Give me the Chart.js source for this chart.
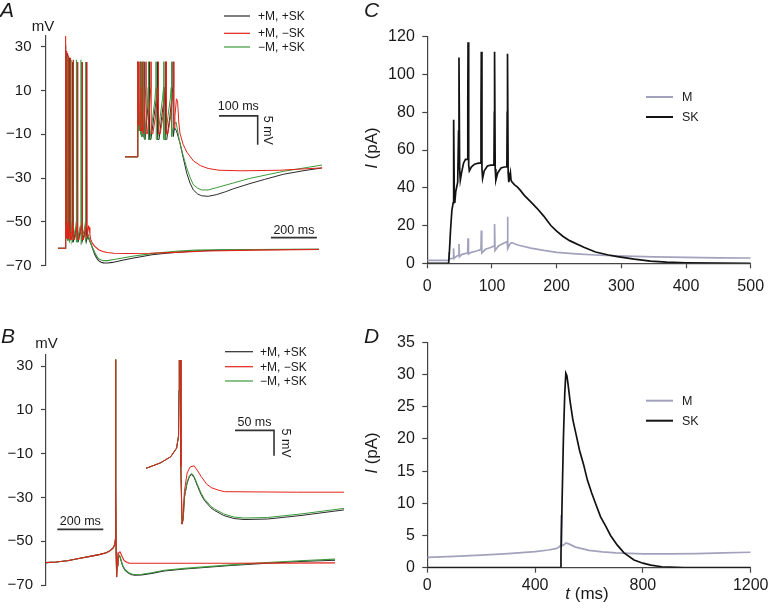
<!DOCTYPE html>
<html><head><meta charset="utf-8">
<script src="https://cdn.jsdelivr.net/npm/chart.js@4.4.1/dist/chart.umd.min.js"></script>
<style>
html,body{margin:0;padding:0;background:#fff;}
#wrap{position:relative;width:768px;height:612px;overflow:hidden;background:#fff;}
canvas{position:absolute;left:0;top:0;}
</style></head><body>
<div id="wrap">
<canvas id="cA" width="768" height="612"></canvas>
<canvas id="cAi" width="768" height="612"></canvas>
<canvas id="cB" width="768" height="612"></canvas>
<canvas id="cBi" width="768" height="612"></canvas>
<canvas id="cC" width="768" height="612"></canvas>
<canvas id="cD" width="768" height="612"></canvas>
</div>
<script>
// ---------------- DATA ----------------
const voltTicks = [-70, -50, -30, -10, 10, 30];
const cTicksX = [0, 100, 200, 300, 400, 500];
const cTicksY = [0, 20, 40, 60, 80, 100, 120];
const dTicksX = [0, 400, 800, 1200];
const dTicksY = [0, 5, 10, 15, 20, 25, 30, 35];
const seriesLabels = ['+M, +SK', '+M, \u2212SK', '\u2212M, +SK'];
const currentLabels = ['M', 'SK'];

// Panel A: membrane potential (t ms, V mV)
const A_pMpSK = [[0,-62],[32,-62],[32.5,-56],[33.2,-50],[33.5,30],[34.3,-57],[36,-57.5],[39,-54],[40.6,-50],[41,27],[41.8,-58],[43.5,-58.5],[46.5,-54],[48.6,-50],[49,25],[49.8,-58.5],[52,-59],[57,-55],[61,-52],[62.6,-50],[63,23],[63.8,-59],[67,-59],[75,-55],[81,-52],[83.1,-50],[83.5,23],[84.3,-59],[88,-59],[95,-55],[101,-52],[103.6,-50],[104,23],[104.8,-59],[108,-59],[116,-55],[121,-52],[123.6,-50],[124,23],[124.8,-58.5],[128,-57],[133,-57.5],[142,-59.6],[150,-62],[159.5,-64.8],[168,-66.5],[176.6,-67.7],[188,-68.4],[198,-68.7],[215,-68.8],[237,-68.5],[260,-68],[280,-67.5],[323,-66.6],[360,-65.9],[409,-65],[460,-64.4],[510,-63.9],[600,-63.3],[700,-62.9],[850,-62.7],[1000,-62.6],[1135,-62.5]];
const A_pMmSK = [[0,-62],[32,-62],[32.5,-56],[33.2,-50],[33.5,35],[34.3,-56],[35.5,-56.5],[37,-53],[38.1,-50],[38.5,28],[39.3,-57],[41,-57.5],[43,-54],[44.6,-50],[45,26],[45.8,-57.5],[48,-58],[51,-54],[53.6,-50],[54,25],[54.8,-58],[58,-58],[63,-54],[66.6,-50],[67,24],[67.8,-58],[72,-58],[79,-55],[85.6,-50],[86,23],[86.8,-58],[91,-58],[98,-55],[105.6,-50],[106,23],[106.8,-58],[111,-58],[118,-55],[125.6,-50],[126,23],[126.8,-57],[129,-55],[133,-52],[136,-52.5],[139,-56],[142,-57.9],[150,-59.8],[160,-61.2],[177,-62.7],[195,-63.5],[215,-64],[243,-64.3],[300,-64.4],[400,-64.3],[510,-63.9],[650,-63.3],[850,-62.9],[1135,-62.6]];
const A_mMpSK = [[0,-62],[32,-62],[32.5,-56],[33.2,-50],[33.5,31],[34.3,-57],[36,-57.5],[38.5,-54],[40.1,-50],[40.5,26],[41.3,-58],[43,-58.5],[45.5,-54],[47.1,-50],[47.5,25],[48.3,-58.5],[50.5,-59],[55,-55],[58.5,-52],[60.1,-50],[60.5,24],[61.3,-59],[64.5,-59],[72,-55],[77.5,-52],[79.6,-50],[80,24],[80.8,-59],[84.5,-59],[91,-55],[97,-52],[99.6,-50],[100,24],[100.8,-59],[104.5,-59],[111,-55],[117,-52],[119.6,-50],[120,23],[120.8,-58.5],[126,-56.5],[132,-56],[140,-59],[150,-61.7],[159.5,-63.9],[168,-65.5],[176.6,-66.8],[188,-67.4],[198,-67.7],[215,-67.7],[237,-67.3],[280,-66.5],[323,-65.7],[409,-64.5],[510,-63.4],[600,-62.9],[700,-62.7],[850,-62.6],[1000,-62.5],[1135,-62.5]];

// Panel B: membrane potential (t ms, V mV)
const B_pMpSK = [[197,-59.8],[240,-59.5],[290,-58.9],[345,-57.8],[400,-56.7],[432,-56],[459,-55.3],[476,-54.3],[489,-53.1],[496.5,-51.4],[499,-49],[499.6,-40],[500,33],[501,-25],[502,-55],[503.5,-66.4],[505,-65.5],[506.5,-61.2],[510,-58.3],[513,-57],[516,-56.6],[519,-57.2],[523.6,-59],[528,-60.6],[532,-61.7],[540.6,-63.2],[545,-63.7],[557,-64.7],[570,-65.3],[583,-65.5],[613,-65.4],[656,-64.7],[711,-63.6],[800,-62.7],[900,-61.9],[1000,-61.1],[1157,-60.1],[1300,-59.3],[1454,-58.7]];
const B_pMmSK = [[197,-59.8],[240,-59.5],[290,-58.9],[345,-57.8],[400,-56.7],[432,-56],[459,-55.3],[476,-54.3],[489,-53.1],[496.5,-51.4],[499,-49],[499.6,-40],[500,33],[501,-25],[502,-55],[503.5,-66.4],[505,-64.5],[506.5,-60],[510,-56.3],[514,-55.1],[519,-54.9],[523.6,-55.9],[528,-57],[535,-58.5],[541,-59.2],[550,-59.7],[558,-60],[650,-60.1],[800,-60.1],[1000,-60.1],[1200,-60],[1454,-59.9]];
const B_mMpSK = [[197,-59.8],[240,-59.5],[290,-58.9],[345,-57.8],[400,-56.7],[432,-56],[459,-55.3],[476,-54.3],[489,-53.1],[496.5,-51.4],[499,-49],[499.6,-40],[500,33],[501,-25],[502,-55],[503.5,-66.4],[505,-65.4],[506.5,-61],[510,-58.1],[513,-56.8],[516,-56.4],[519,-57],[523.6,-58.7],[528,-60.3],[532,-61.4],[540.6,-62.9],[545,-63.4],[557,-64.4],[570,-65],[583,-65.2],[613,-65.1],[656,-64.4],[711,-63.3],[800,-62.4],[900,-61.6],[1000,-60.8],[1157,-59.7],[1300,-58.9],[1454,-58.2]];

// Panel C: currents during burst (t ms, I pA)
const C_M = [[0,1.5],[32,1.5],[33,2],[33.5,5.8],[34,2.2],[36,2.4],[40,2.8],[40.6,7.9],[41.3,2.6],[44,3.4],[48.4,4.4],[49,10.2],[49.7,3.5],[53,4.6],[58,5.1],[62.4,5.4],[63,13.2],[63.7,4.9],[68,5.8],[76,6.5],[83,7.4],[83.5,17.3],[84.2,5.5],[90,7.4],[98,8.4],[103.5,9.2],[104,20.8],[104.7,6.8],[110,9.2],[118,10.6],[123.5,11.5],[124,24.7],[124.7,7.9],[127,9.8],[130,10.9],[133,10.6],[140,9.7],[160,8],[180,6.8],[200,5.8],[230,5],[260,4.4],[294,3.9],[350,3.4],[400,3.1],[450,2.9],[500,2.8]];
const C_SK = [[0,0],[33,0],[34,5],[36,18],[38,28],[40,32],[40.5,50],[41,76],[41.8,34],[42.5,32],[44,38],[47,43],[48.3,70],[49,109],[50,50],[51,44],[53,48],[56,53],[59,55],[62,55],[62.6,85],[63,117],[64,52],[65,49],[68,51],[73,52.5],[79,53],[82.5,53],[83,80],[83.5,112],[84.5,50],[85.5,45],[88,49],[93,51.5],[98,52],[103,52],[103.6,80],[104,112],[105,50],[106,44],[109,48],[114,50.5],[119,51],[123,51],[123.5,80],[124,111],[125,48],[126,43],[127.5,46],[128.5,48],[129.5,44],[131,43],[135,41.5],[139,40.5],[143,39],[150,36],[160,32.5],[170,29],[180,25],[191,20],[200,17],[210,14.2],[220,12],[242,8.5],[260,6],[280,4.4],[294,3.5],[320,2.2],[345,1.2],[370,0.6],[400,0.3],[450,0.1],[500,0]];

// Panel D: currents around single spike (t ms, I pA)
const D_M = [[0,1.6],[100,1.75],[200,1.95],[300,2.2],[400,2.5],[450,2.75],[480,3.0],[492,3.3],[496,3.6],[497,8.2],[498,3.4],[505,3.5],[515,3.85],[525,3.7],[550,3.2],[600,2.7],[650,2.45],[700,2.3],[800,2.15],[900,2.15],[1000,2.2],[1100,2.3],[1200,2.4]];
const D_SK = [[0,0],[494,0],[496,2],[500,10],[505,20],[510,27],[514,30.2],[518,29.8],[522,28.6],[530,25.8],[540,23],[551,20.9],[565,18.2],[580,16],[594,13.6],[610,11.6],[625,9.9],[643,7.9],[660,6.6],[680,5],[705,3.5],[730,2.3],[767,1.2],[800,0.7],[829,0.4],[870,0.15],[953,0],[1200,0]];

// ---------------- LAYOUT / STYLE ----------------
const FONT = "'Liberation Sans', Arial, Helvetica, sans-serif";
const AXIS = '#444';
const TXT = '#1a1a1a';
const COL = {pMpSK:'#2b2b2b', pMmSK:'#e2231a', mMpSK:'#3c9a3c', M:'#a2a2bc', SK:'#121212', bar:'#333'};
// scale bars (position + length in data units)
const barA = {t:926, v:-57.2, len:200};
const barAi = {t:243, v:-54.93, len:100, mv:5};
const barB = {t:246, v:-44.6, len:200};
const barBi = {t:571.4, v:-47.9, len:50, mv:5};

const toXY = a => a.map(p => ({x:p[0], y:p[1]}));
const fmtV = v => (v < 0 ? '\u2212' + Math.abs(v) : String(v));
const fmtPlain = v => String(v);

function ds(arr, color, w, order) {
  return {data: toXY(arr), borderColor: color, borderWidth: w, pointRadius: 0, fill: false, tension: 0, order: order};
}
function opts(padding, scales) {
  return {responsive:false, maintainAspectRatio:false, animation:false, events:[],
    layout:{padding}, plugins:{legend:{display:false}, tooltip:{enabled:false}},
    elements:{point:{radius:0}, line:{tension:0}}, scales};
}
function zeroPad(s) { s.paddingTop = 0; s.paddingBottom = 0; s.paddingLeft = 0; s.paddingRight = 0; }
function yAxis(min, max, vals, pad, size, fmt) {
  return {type:'linear', position:'left', min, max,
    afterBuildTicks: s => { s.ticks = vals.map(v => ({value:v})); },
    afterFit: s => { s.width = 40; zeroPad(s); },
    grid:{drawOnChartArea:false, drawTicks:true, tickLength:5, tickWidth:1.2, tickColor:AXIS, color:AXIS},
    border:{display:true, color:AXIS, width:1.2},
    ticks:{padding:pad, color:TXT, font:{size, family:FONT}, callback: fmt || fmtPlain}};
}
function xAxis(min, max, vals, pad, size) {
  return {type:'linear', position:'bottom', min, max,
    afterBuildTicks: s => { s.ticks = vals.map(v => ({value:v})); },
    afterFit: s => { s.height = 30; zeroPad(s); },
    grid:{drawOnChartArea:false, drawTicks:true, tickLength:5, tickWidth:1.2, tickColor:AXIS, color:AXIS},
    border:{display:true, color:AXIS, width:1.2},
    ticks:{padding:pad, color:TXT, font:{size, family:FONT}, maxRotation:0, minRotation:0, autoSkip:false, callback: fmtPlain}};
}
function hidden(min, max) { return {type:'linear', display:false, min, max}; }
function annot(id, fn) { return {id, afterDraw(chart){ const c = chart.ctx; c.save(); fn(chart, c); c.restore(); }}; }

function legend(ctx, x0, x1, tx, ys, labels, colors, widths, size) {
  ctx.font = size + 'px ' + FONT; ctx.textAlign = 'left'; ctx.textBaseline = 'middle';
  ys.forEach((y, i) => {
    ctx.strokeStyle = colors[i]; ctx.lineWidth = widths[i];
    ctx.beginPath(); ctx.moveTo(x0, y); ctx.lineTo(x1, y); ctx.stroke();
    ctx.fillStyle = TXT; ctx.fillText(labels[i], tx, y + 0.5);
  });
}
function panelLetter(ctx, L, x, y) {
  ctx.fillStyle = TXT; ctx.font = 'italic 21px ' + FONT; ctx.textAlign = 'left'; ctx.textBaseline = 'alphabetic';
  ctx.fillText(L, x, y);
}
function plainText(ctx, s, x, y, size, align) {
  ctx.fillStyle = TXT; ctx.font = size + 'px ' + FONT; ctx.textAlign = align || 'center'; ctx.textBaseline = 'alphabetic';
  ctx.fillText(s, x, y);
}
function rotText(ctx, s, cx, cy, size, ang) {
  ctx.save(); ctx.translate(cx, cy); ctx.rotate(ang);
  ctx.fillStyle = TXT; ctx.font = size + 'px ' + FONT; ctx.textAlign = 'center'; ctx.textBaseline = 'middle';
  ctx.fillText(s, 0, 0); ctx.restore();
}
function italicLead(ctx, lead, rest, cx, cy, size, ang) {
  ctx.save(); ctx.translate(cx, cy); ctx.rotate(ang);
  const f1 = 'italic ' + size + 'px ' + FONT, f2 = size + 'px ' + FONT;
  ctx.font = f1; const w1 = ctx.measureText(lead).width;
  ctx.font = f2; const w2 = ctx.measureText(rest).width;
  const x0 = -(w1 + w2) / 2;
  ctx.fillStyle = TXT; ctx.textAlign = 'left'; ctx.textBaseline = 'alphabetic';
  ctx.font = f1; ctx.fillText(lead, x0, 0);
  ctx.font = f2; ctx.fillText(rest, x0 + w1, 0);
  ctx.restore();
}
const vCols = [COL.pMpSK, COL.pMmSK, COL.mMpSK];

// ---------------- PANEL A ----------------
new Chart(document.getElementById('cA'), {
  type:'line',
  data:{datasets:[
    ds(A_pMpSK, COL.pMpSK, 1.1, 3),
    ds(A_mMpSK, COL.mMpSK, 1.1, 2),
    ds(A_pMmSK, COL.pMmSK, 1.1, 1),
    ds([[barA.t, barA.v],[barA.t + barA.len, barA.v]], COL.bar, 1.6, 0)
  ]},
  options: opts({left:6, right:438, top:35.75, bottom:346.3}, {
    x: hidden(-52, 1183),
    y: yAxis(-70, 35, voltTicks, 9.5, 15, fmtV)
  }),
  plugins:[annot('annA', (ch, ctx) => {
    const x = ch.scales.x, y = ch.scales.y;
    panelLetter(ctx, 'A', 0, 17);
    plainText(ctx, 'mV', 43, 30.5, 15);
    plainText(ctx, '200 ms', x.getPixelForValue(barA.t + barA.len/2), y.getPixelForValue(barA.v) - 3.5, 12.5);
    legend(ctx, 224, 250, 258, [16, 33.3, 47], seriesLabels, vCols, [1.2,1.2,1.2], 12);
  })]
});
new Chart(document.getElementById('cAi'), {
  type:'line',
  data:{datasets:[
    ds(A_pMpSK, COL.pMpSK, 1.0, 3),
    ds(A_mMpSK, COL.mMpSK, 1.0, 2),
    ds(A_pMmSK, COL.pMmSK, 1.0, 1),
    ds([[barAi.t, barAi.v],[barAi.t + barAi.len, barAi.v],[barAi.t + barAi.len, barAi.v - barAi.mv]], COL.bar, 1.6, 0)
  ]},
  options: opts({left:125, right:445.7, top:61.7, bottom:408.7}, {
    x: hidden(0, 510),
    y: hidden(-70, -45.6)
  }),
  plugins:[annot('annAi', (ch, ctx) => {
    const x = ch.scales.x, y = ch.scales.y;
    plainText(ctx, '100 ms', x.getPixelForValue(barAi.t + barAi.len/2), y.getPixelForValue(barAi.v) - 6, 12.5);
    rotText(ctx, '5 mV', x.getPixelForValue(barAi.t + barAi.len) + 9.5, y.getPixelForValue(barAi.v - barAi.mv/2), 12.5, Math.PI/2);
  })]
});

// ---------------- PANEL B ----------------
new Chart(document.getElementById('cB'), {
  type:'line',
  data:{datasets:[
    ds(B_pMpSK, COL.pMpSK, 1.1, 3),
    ds(B_mMpSK, COL.mMpSK, 1.1, 2),
    ds(B_pMmSK, COL.pMmSK, 1.1, 1),
    ds([[barB.t, barB.v],[barB.t + barB.len, barB.v]], COL.bar, 1.6, 0)
  ]},
  options: opts({left:6, right:428, top:355.05, bottom:27}, {
    x: hidden(196.8, 1475.7),
    y: yAxis(-70, 35, voltTicks, 8, 15, fmtV)
  }),
  plugins:[annot('annB', (ch, ctx) => {
    const x = ch.scales.x, y = ch.scales.y;
    panelLetter(ctx, 'B', 1, 343);
    plainText(ctx, 'mV', 46.5, 347.5, 15);
    plainText(ctx, '200 ms', x.getPixelForValue(barB.t + barB.len/2), y.getPixelForValue(barB.v) - 4, 12.5);
    legend(ctx, 225, 253, 260, [351.7, 366.7, 381], seriesLabels, vCols, [1.2,1.2,1.2], 12);
  })]
});
new Chart(document.getElementById('cBi'), {
  type:'line',
  data:{datasets:[
    ds(B_pMpSK, COL.pMpSK, 1.0, 3),
    ds(B_mMpSK, COL.mMpSK, 1.0, 2),
    ds(B_pMmSK, COL.pMmSK, 1.0, 1),
    ds([[barBi.t, barBi.v],[barBi.t + barBi.len, barBi.v],[barBi.t + barBi.len, barBi.v - barBi.mv]], COL.bar, 1.6, 0)
  ]},
  options: opts({left:146, right:424, top:360, bottom:79.8}, {
    x: hidden(457.3, 711.1),
    y: hidden(-68, -34)
  }),
  plugins:[annot('annBi', (ch, ctx) => {
    const x = ch.scales.x, y = ch.scales.y;
    plainText(ctx, '50 ms', x.getPixelForValue(barBi.t + barBi.len/2), y.getPixelForValue(barBi.v) - 4, 12.5);
    rotText(ctx, '5 mV', x.getPixelForValue(barBi.t + barBi.len) + 11, y.getPixelForValue(barBi.v - barBi.mv/2), 12.5, Math.PI/2);
  })]
});

// ---------------- PANEL C ----------------
new Chart(document.getElementById('cC'), {
  type:'line',
  data:{datasets:[
    ds(C_M, COL.M, 1.7, 2),
    ds(C_SK, COL.SK, 1.7, 1)
  ]},
  options: opts({left:387.3, right:17.3, top:36.7, bottom:318.7}, {
    x: xAxis(0, 500, cTicksX, 9, 16),
    y: yAxis(0, 120, cTicksY, 7.5, 16)
  }),
  plugins:[annot('annC', (ch, ctx) => {
    panelLetter(ctx, 'C', 364, 17);
    italicLead(ctx, 'I', ' (pA)', 377, 148, 17, -Math.PI/2);
    legend(ctx, 646, 673, 682, [97, 117], currentLabels, [COL.M, COL.SK], [2, 2], 12.5);
  })]
});

// ---------------- PANEL D ----------------
new Chart(document.getElementById('cD'), {
  type:'line',
  data:{datasets:[
    ds(D_M, COL.M, 1.7, 2),
    ds(D_SK, COL.SK, 1.7, 1)
  ]},
  options: opts({left:387.3, right:17.3, top:342.3, bottom:14.3}, {
    x: xAxis(0, 1200, dTicksX, 3, 16),
    y: yAxis(0, 35, dTicksY, 7.5, 16)
  }),
  plugins:[annot('annD', (ch, ctx) => {
    panelLetter(ctx, 'D', 364, 343);
    italicLead(ctx, 'I', ' (pA)', 377, 453, 17, -Math.PI/2);
    italicLead(ctx, 't', ' (ms)', 587, 599, 17, 0);
    legend(ctx, 646, 673, 682, [400.7, 420.7], currentLabels, [COL.M, COL.SK], [2, 2], 12.5);
  })]
});
</script>
</body></html>
